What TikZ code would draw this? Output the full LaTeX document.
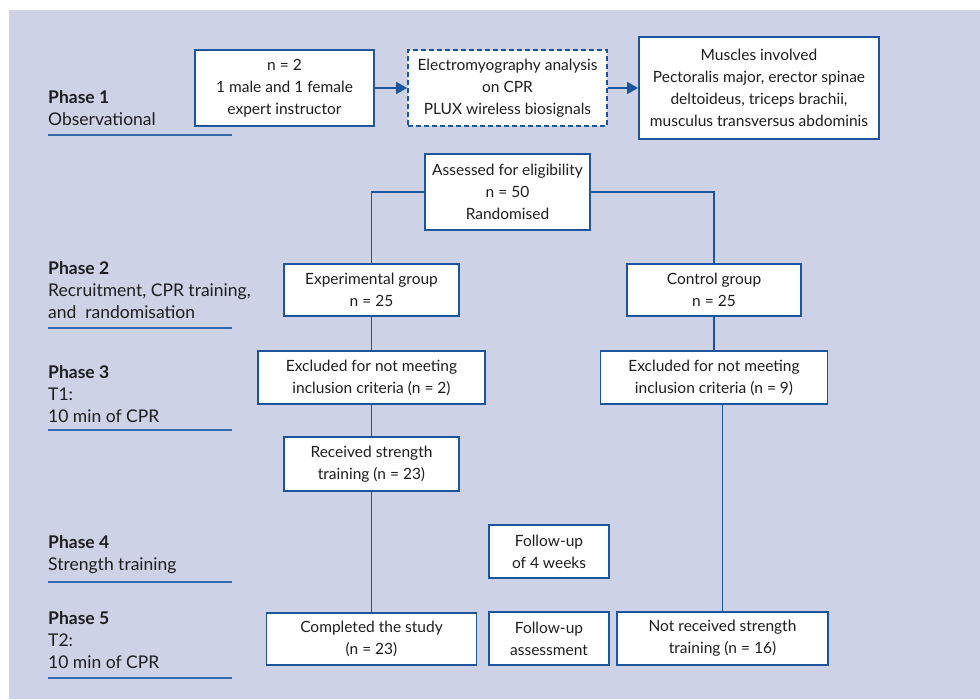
\documentclass[tikz,border=0pt]{standalone}
\usepackage{fontspec}
\setmainfont{Lato}
\usetikzlibrary{arrows.meta}

\definecolor{panelbg}{RGB}{205,210,230}
\definecolor{boxblue}{RGB}{28,84,158}
\definecolor{ruleblue}{RGB}{52,104,172}
\definecolor{txtgray}{RGB}{30,30,30}

\tikzset{
  box/.style={draw=boxblue, line width=1.8pt, fill=white, align=center, inner sep=2pt,
    text=txtgray, font=\fontsize{15.5}{22}\selectfont},
  dashbox/.style={box, dash pattern=on 5pt off 3pt},
  link/.style={draw=boxblue, line width=1.6pt},
  arrowlink/.style={link, -{Triangle[length=11pt,width=12pt]}},
  phase/.style={anchor=south west, inner sep=0pt, align=left, text depth=0pt,
    text=txtgray, font=\fontsize{17.5}{22}\selectfont},
  phaserule/.style={draw=ruleblue, line width=1.6pt}
}

\begin{document}
\begin{tikzpicture}[x=1pt, y=-1pt]
    % Define the page and the panel
    \useasboundingbox (0,0) rectangle (980,699);
    \fill[white] (0,0) rectangle (980,699);
    \fill[panelbg] (9,10) rectangle (980,699);

    % Phase labels on the left
    \foreach \name/\yb/\yl/\txt in {
        ph1/126/135/{\textbf{Phase 1}\\Observational},
        ph2/319/328/{\textbf{Phase 2}\\Recruitment, CPR training,\\and\ \ randomisation},
        ph3/423/430/{\textbf{Phase 3}\\T1:\\10 min of CPR},
        ph4/571/582/{\textbf{Phase 4}\\Strength training},
        ph5/669/678/{\textbf{Phase 5}\\T2:\\10 min of CPR}}
    {
        \node[phase] (\name) at (48,\yb) {\txt};
        \draw[phaserule] (48,\yl) -- (232,\yl);
    }

    % Phase 1 boxes
    \node[box, minimum width=179, minimum height=76] (instr) at (284.5,88)
        {n = 2\\1 male and 1 female\\expert instructor};
    \node[dashbox, minimum width=199, minimum height=76] (emg) at (507.5,88)
        {Electromyography analysis\\on CPR\\PLUX wireless biosignals};
    \node[box, minimum width=240, minimum height=102] (muscles) at (759,88)
        {Muscles involved\\Pectoralis major, erector spinae\\deltoideus, triceps brachii,\\musculus transversus abdominis};

    % Trial boxes
    \node[box, minimum width=165, minimum height=76] (assess) at (507.5,192)
        {Assessed for eligibility\\n = 50\\Randomised};
    \node[box, minimum width=175, minimum height=52] (expgrp) at (371.5,290)
        {Experimental group\\n = 25};
    \node[box, minimum width=174, minimum height=52] (ctrlgrp) at (714,290)
        {Control group\\n = 25};
    \node[box, minimum width=227, minimum height=53] (exclexp) at (371.5,377.5)
        {Excluded for not meeting\\inclusion criteria (n = 2)};
    \node[box, minimum width=227, minimum height=53] (exclctrl) at (714,377.5)
        {Excluded for not meeting\\inclusion criteria (n = 9)};
    \node[box, minimum width=175, minimum height=54] (received) at (371.5,464)
        {Received strength\\training (n = 23)};
    \node[box, minimum width=120, minimum height=53] (follow) at (549,551.5)
        {Follow-up\\of 4 weeks};
    \node[box, minimum width=210, minimum height=52] (completed) at (371.5,639)
        {Completed the study\\(n = 23)};
    \node[box, minimum width=120, minimum height=53] (assessment) at (549,638.5)
        {Follow-up\\assessment};
    \node[box, minimum width=211, minimum height=53] (notrecv) at (722.5,638.5)
        {Not received strength\\training (n = 16)};

    % Arrows of phase 1
    \draw[arrowlink] (instr) -- (emg);
    \draw[arrowlink] (emg) -- (muscles);

    % Connecting lines
    \draw[link] (assess.west) -| (expgrp.north);
    \draw[link] (assess.east) -| (ctrlgrp.north);
    \draw[link] (expgrp) -- (exclexp);
    \draw[link] (exclexp) -- (received);
    \draw[link] (received) -- (completed);
    \draw[link] (ctrlgrp) -- (exclctrl);
    \draw[link] (notrecv.north |- exclctrl.south) -- (notrecv.north);
\end{tikzpicture}
\end{document}
